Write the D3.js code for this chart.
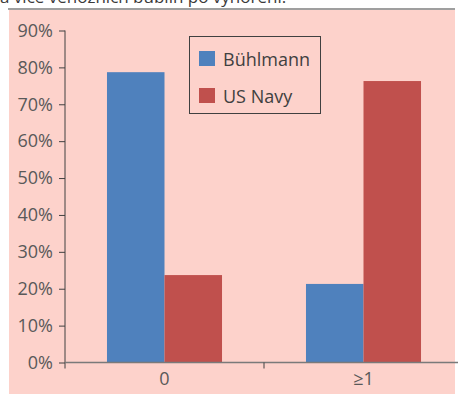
<!DOCTYPE html>
<html>
<head>
<meta charset="utf-8">
<script src="https://cdn.jsdelivr.net/npm/d3@7"></script>
<style>
  html, body { margin: 0; padding: 0; background: #fff; }
  svg { display: block; font-family: "Open Sans", sans-serif; }
</style>
</head>
<body>
<svg id="chart" width="458" height="394"></svg>
<script>
// Share of divers by number of venous bubbles, per decompression model
const categories = ["0", "≥1"];
const seriesNames = ["Bühlmann", "US Navy"];
const buhlmann = [0.787, 0.213];
const usNavy = [0.237, 0.763];
const yTicks = [0, 0.1, 0.2, 0.3, 0.4, 0.5, 0.6, 0.7, 0.8, 0.9];
const colors = ["#4F81BD", "#C0504D"];

const svg = d3.select("#chart");
const W = 458, H = 394;

// caption line above the panel (partly cut off at the top edge)
svg.append("text")
  .attr("x", 0).attr("y", 3)
  .attr("font-size", 17)
  .attr("fill", "#3a3a3a")
  .text("a více venózních bublin po vynoření.");

// panel background and rule
svg.append("rect")
  .attr("x", 9).attr("y", 10)
  .attr("width", 446).attr("height", H - 10)
  .attr("fill", "#FDD2CB");
svg.append("line")
  .attr("x1", 8).attr("x2", 455)
  .attr("y1", 9).attr("y2", 9)
  .attr("stroke", "#7f7f7f").attr("stroke-width", 1.5);

const plotLeft = 65, plotRight = 463, plotTop = 30.5, plotBottom = 362.5;

const x0 = d3.scaleBand().domain(categories).range([plotLeft, plotRight]).padding(0);
const x1 = d3.scaleBand().domain(seriesNames).range([0, x0.bandwidth()])
  .paddingInner(0).paddingOuter(0.73);
const y = d3.scaleLinear().domain([0, 0.9]).range([plotBottom, plotTop]);

const rows = categories.map((c, i) => ({
  cat: c,
  vals: [
    { name: seriesNames[0], v: buhlmann[i] },
    { name: seriesNames[1], v: usNavy[i] }
  ]
}));

// bars
const groups = svg.append("g").selectAll("g")
  .data(rows).join("g")
  .attr("transform", d => `translate(${x0(d.cat)},0)`);
groups.selectAll("rect")
  .data(d => d.vals).join("rect")
  .attr("x", d => x1(d.name))
  .attr("width", x1.bandwidth())
  .attr("y", d => y(d.v))
  .attr("height", d => plotBottom - y(d.v))
  .attr("fill", (d, i) => colors[i]);

// y axis
const yAxis = d3.axisLeft(y)
  .tickValues(yTicks)
  .tickFormat(d3.format(".0%"))
  .tickSize(6)
  .tickPadding(6);
const gy = svg.append("g")
  .attr("transform", `translate(${plotLeft},0)`)
  .call(yAxis);
gy.select(".domain").remove();
gy.selectAll(".tick line").attr("stroke", "#404040");
gy.selectAll(".tick text")
  .attr("font-size", 18)
  .attr("font-family", "Open Sans, sans-serif")
  .attr("fill", "#595959");
gy.append("line")
  .attr("x1", 0).attr("x2", 0)
  .attr("y1", plotTop).attr("y2", plotBottom + 6)
  .attr("stroke", "#404040");

// x axis
const xAxis = d3.axisBottom(x0).tickSize(0).tickPadding(10);
const gx = svg.append("g")
  .attr("transform", `translate(0,${plotBottom})`)
  .call(xAxis);
gx.select(".domain").remove();
gx.selectAll(".tick text")
  .attr("font-size", 18)
  .attr("font-family", "Open Sans, sans-serif")
  .attr("fill", "#595959");
gx.append("line")
  .attr("x1", plotLeft).attr("x2", W)
  .attr("y1", 0).attr("y2", 0)
  .attr("stroke", "#7a7a7a").attr("stroke-width", 1.6);
gx.selectAll(".sep")
  .data(categories.slice(1)).join("line")
  .attr("class", "sep")
  .attr("x1", d => x0(d)).attr("x2", d => x0(d))
  .attr("y1", 0).attr("y2", 6)
  .attr("stroke", "#404040");

// legend
const lg = svg.append("g").attr("transform", "translate(189,36)");
lg.append("rect")
  .attr("x", 0.5).attr("y", 0.5)
  .attr("width", 131).attr("height", 77)
  .attr("fill", "none")
  .attr("stroke", "#404040");
seriesNames.forEach((n, i) => {
  lg.append("rect")
    .attr("x", 10).attr("y", 15 + i * 37)
    .attr("width", 16).attr("height", 15)
    .attr("fill", colors[i]);
  lg.append("text")
    .attr("x", 34).attr("y", 30 + i * 37)
    .attr("font-size", 18)
    .attr("fill", "#404040")
    .text(n);
});
</script>
</body>
</html>
